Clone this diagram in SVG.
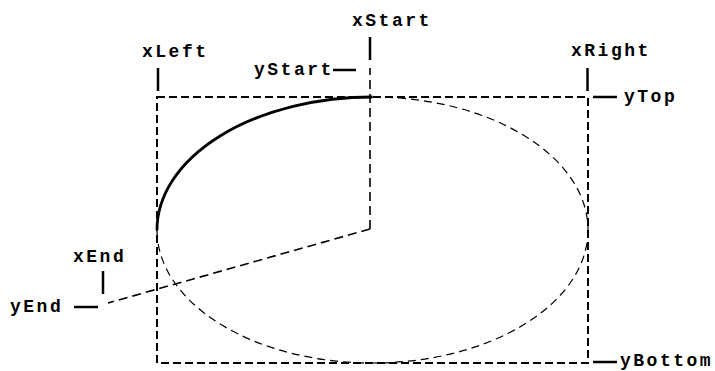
<svg xmlns="http://www.w3.org/2000/svg" width="715" height="371" viewBox="0 0 715 371">
<style>
text{font-family:"Liberation Mono","Courier New",monospace;font-weight:bold;font-size:18px;letter-spacing:2.5px;fill:#000}
.tick{stroke:#000;stroke-width:2.5;fill:none}
.rect{stroke:#000;stroke-width:2;stroke-dasharray:8 4;fill:none}
.ell{stroke:#000;stroke-width:1.2;stroke-dasharray:8 5;fill:none}
.rad{stroke:#000;stroke-width:1.6;stroke-dasharray:9 5;fill:none}
.arc{stroke:#000;stroke-width:2.8;fill:none}
</style>
<rect width="715" height="371" fill="#fff"/>
<g id="frame">
<rect class="rect" x="157" y="97" width="431" height="266"/>
<ellipse class="ell" cx="372.5" cy="230" rx="215.5" ry="133"/>
</g>
<g id="connectors">
<path class="rad" d="M370 229 L370 68"/>
<path class="rad" d="M370 229 L108 303"/>
<path class="arc" d="M372.5 97 A215.5 133 0 0 0 157 230"/>
</g>
<g id="xLeft"><text x="142" y="57">xLeft</text><line class="tick" x1="158" y1="68" x2="158" y2="91"/></g>
<g id="xStart"><text x="352" y="26">xStart</text><line class="tick" x1="370" y1="37" x2="370" y2="60"/></g>
<g id="yStart"><text x="254" y="75">yStart</text><line class="tick" x1="333" y1="70" x2="356" y2="70"/></g>
<g id="xRight"><text x="571" y="56">xRight</text><line class="tick" x1="587.5" y1="68" x2="587.5" y2="91"/></g>
<g id="yTop"><text x="624" y="102">yTop</text><line class="tick" x1="593" y1="97" x2="617" y2="97"/></g>
<g id="xEnd"><text x="73" y="262">xEnd</text><line class="tick" x1="103" y1="271" x2="103" y2="294"/></g>
<g id="yEnd"><text x="10" y="312">yEnd</text><line class="tick" x1="74" y1="307" x2="98" y2="307"/></g>
<g id="yBottom"><text x="620" y="366">yBottom</text><line class="tick" x1="593" y1="362" x2="617" y2="362"/></g>
</svg>
